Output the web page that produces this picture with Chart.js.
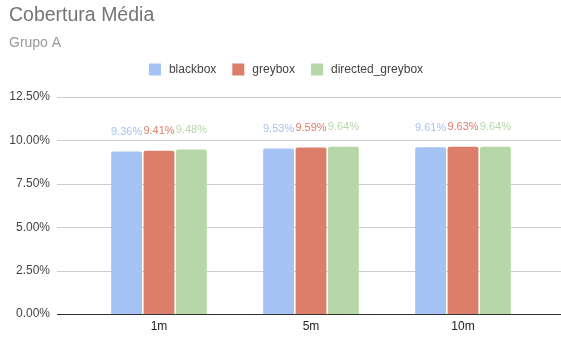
<!DOCTYPE html>
<html>
<head>
<meta charset="utf-8">
<script src="https://cdn.jsdelivr.net/npm/chart.js@4/dist/chart.umd.min.js"></script>
<style>
  html, body { margin: 0; padding: 0; background: #ffffff; }
  #wrap { width: 561px; height: 338px; }
</style>
</head>
<body>
<div id="wrap"><canvas id="chart" width="561" height="338"></canvas></div>
<script>
// Categories and series (values in percent)
const categories = ['1m', '5m', '10m'];
const blackbox = [9.36, 9.53, 9.61];
const greybox = [9.41, 9.59, 9.63];
const directedGreybox = [9.48, 9.64, 9.64];
const seriesNames = ['blackbox', 'greybox', 'directed_greybox'];
const yTicks = [0, 2.5, 5, 7.5, 10, 12.5];

const colors = ['#a4c2f4', '#dd7e6b', '#b6d7a8'];
const seriesData = [blackbox, greybox, directedGreybox];

Chart.defaults.font.family = "'Liberation Sans', Arial, sans-serif";

// Horizontal gridlines that extend past the bar area, plus the dark baseline
const gridPlugin = {
  id: 'wideGrid',
  beforeDatasetsDraw(chart) {
    const ctx = chart.ctx;
    const y = chart.scales.y;
    ctx.save();
    ctx.lineWidth = 1;
    ctx.strokeStyle = '#cccccc';
    yTicks.forEach(v => {
      if (v === 0) return;
      const py = Math.round(y.getPixelForValue(v)) + 0.5;
      ctx.beginPath();
      ctx.moveTo(57, py);
      ctx.lineTo(561, py);
      ctx.stroke();
    });
    ctx.restore();
  },
  afterDatasetsDraw(chart) {
    const ctx = chart.ctx;
    const y = chart.scales.y;
    ctx.save();
    ctx.lineWidth = 1;
    ctx.strokeStyle = '#333333';
    const py = Math.round(y.getPixelForValue(0)) + 0.5;
    ctx.beginPath();
    ctx.moveTo(57, py);
    ctx.lineTo(561, py);
    ctx.stroke();

    // Value labels above each bar
    ctx.font = "11px 'Liberation Sans', Arial, sans-serif";
    ctx.textAlign = 'center';
    ctx.textBaseline = 'middle';
    chart.data.datasets.forEach((ds, i) => {
      const meta = chart.getDatasetMeta(i);
      meta.data.forEach((bar, j) => {
        ctx.fillStyle = colors[i];
        ctx.fillText(ds.data[j].toFixed(2) + '%', bar.x, bar.y - 19.5);
      });
    });
    ctx.restore();
  }
};

new Chart(document.getElementById('chart'), {
  type: 'bar',
  data: {
    labels: categories,
    datasets: seriesNames.map((name, i) => ({
      label: name,
      data: seriesData[i],
      backgroundColor: colors[i],
      borderRadius: { topLeft: 2, topRight: 2 },
      borderSkipped: 'bottom',
      barPercentage: 0.95,
      categoryPercentage: 0.64
    }))
  },
  options: {
    responsive: false,
    animation: false,
    devicePixelRatio: 1,
    layout: { padding: { left: 9, right: 0, top: 0, bottom: 0 } },
    plugins: {
      title: {
        display: true,
        text: 'Cobertura Média',
        align: 'start',
        color: '#757575',
        font: { size: 19.5, weight: 'normal' },
        padding: { top: 4, bottom: 7.2 }
      },
      subtitle: {
        display: true,
        text: 'Grupo A',
        align: 'start',
        color: '#999999',
        font: { size: 14, weight: 'normal' },
        padding: { top: 0, bottom: -4 }
      },
      legend: {
        display: true,
        position: 'top',
        labels: {
          boxWidth: 16,
          boxHeight: 16,
          color: '#444444',
          font: { size: 12 },
          padding: 14,
          // white inner stroke trims each swatch to a 12x12 square
          generateLabels(c) {
            return Chart.defaults.plugins.legend.labels.generateLabels(c).map(item => Object.assign(item, {
              lineWidth: 4,
              strokeStyle: '#ffffff'
            }));
          }
        }
      },
      tooltip: { enabled: false }
    },
    scales: {
      x: {
        grid: { display: false, drawTicks: false },
        border: { display: false },
        ticks: { color: '#222222', font: { size: 12 }, padding: 5 },
        afterFit(scale) { scale.height = 24; }
      },
      // spacer between legend and plot
      xTop: {
        type: 'category',
        position: 'top',
        display: true,
        grid: { display: false, drawTicks: false },
        border: { display: false },
        ticks: { display: false },
        afterFit(scale) { scale.height = 9.6; }
      },
      y: {
        min: 0,
        max: 12.5,
        weight: 1,
        grid: { display: false, drawTicks: false },
        border: { display: false },
        ticks: {
          stepSize: 2.5,
          color: '#444444',
          font: { size: 12 },
          padding: 0,
          callback: v => v.toFixed(2) + '%'
        },
        afterFit(scale) { scale.width = 41; }
      },
      // spacer between tick labels and the first bar group
      yGap: {
        type: 'linear',
        position: 'left',
        weight: 0,
        display: true,
        grid: { display: false },
        border: { display: false },
        ticks: { display: false },
        afterFit(scale) { scale.width = 33; }
      },
      // right-hand spacer
      y2: {
        position: 'right',
        display: true,
        grid: { display: false },
        border: { display: false },
        ticks: { display: false },
        afterFit(scale) { scale.width = 22; }
      }
    }
  },
  plugins: [gridPlugin]
});
</script>
</body>
</html>
